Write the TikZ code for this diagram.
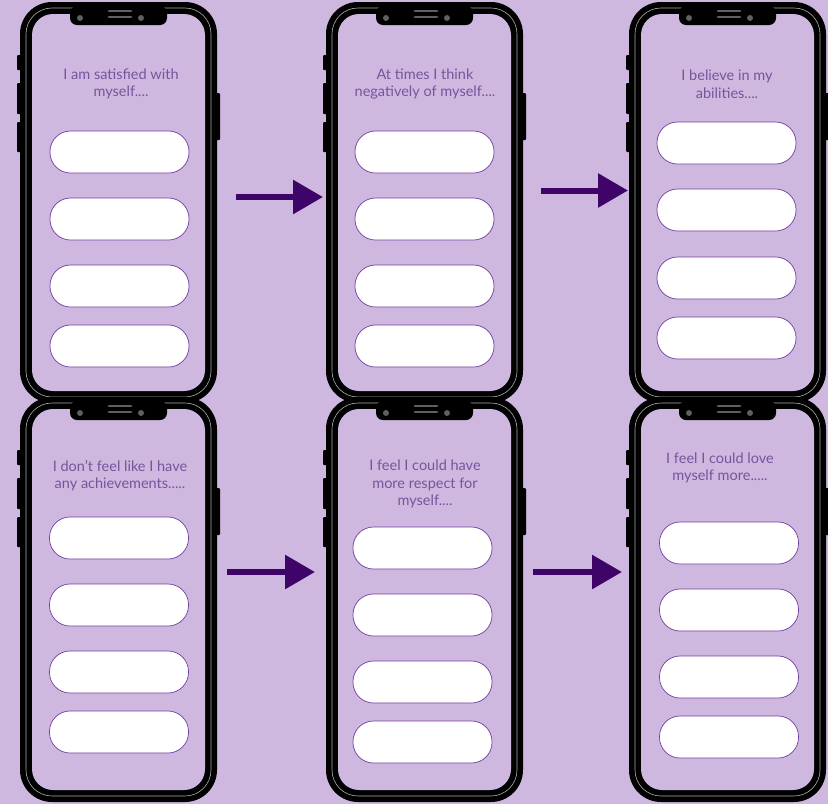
\documentclass[tikz,border=0pt]{standalone}
\usepackage{fontspec}
\setmainfont{Lato}
\usepackage{tikz}
\usetikzlibrary{arrows.meta}

\definecolor{lilac}{RGB}{207,184,224}
\definecolor{plum}{RGB}{63,4,104}
\definecolor{inkpurple}{RGB}{118,84,156}
\definecolor{pillline}{RGB}{112,62,160}
\definecolor{grille}{RGB}{95,95,100}

% phone body: top-left x, top-left y, height
\newcommand{\phonebody}[3]{%
  \begin{scope}[shift={(#1,#2)}]
    \fill[black, rounded corners=1] (-3,53) rectangle (1,68);
    \fill[black, rounded corners=1] (-3,81) rectangle (1,112);
    \fill[black, rounded corners=1] (-3,120) rectangle (1,150);
    \fill[black, rounded corners=1] (196,91) rectangle (200,138);
    \fill[black, rounded corners=32] (0,0) rectangle (197,#3);
    \draw[gray!65, line width=0.6pt, rounded corners=26] (6,6) rectangle (191,#3-6);
    \fill[lilac, rounded corners=21] (12,12) rectangle (185,#3-12);
    \fill[black, rounded corners=7] (50,4) rectangle (147,23);
    \draw[grille, line width=2.8pt, line cap=round] (89,9) -- (111,9) (89,15) -- (111,15);
    \fill[grille] (60,16) circle (3) (121,16) circle (3);
  \end{scope}}

\begin{document}
\begin{tikzpicture}[
    x=1pt, y=-1pt,
    question/.style={text=inkpurple, align=center, font=\fontsize{14.5}{17.5}\selectfont},
    answer/.style={draw=pillline, fill=white, line width=0.7pt, rounded corners=20.5pt,
      minimum width=139pt, minimum height=42pt, inner sep=0pt},
    flow/.style={plum, line width=6pt, -{Triangle[length=30pt,width=33pt]}}
  ]
    \fill[lilac] (0,0) rectangle (828,804);
    \useasboundingbox (0,0) rectangle (828,804);

    % phones
    \foreach \px in {20,326,629} {
      \phonebody{\px}{2}{401}
    }
    \foreach \px in {20,326,629} {
      \phonebody{\px}{397}{405}
    }

    % questions
    \node[question] (q1) at (121,84) {I am satisfied with\\myself....};
    \node[question] (q2) at (425,84) {At times I think\\negatively of myself....};
    \node[question] (q3) at (727,84) {I believe in my\\abilities....};
    \node[question] (q4) at (120,475.5) {I don't feel like I have\\any achievements.....};
    \node[question] (q5) at (425,484) {I feel I could have\\more respect for\\myself....};
    \node[question] (q6) at (720,468) {I feel I could love\\myself more.....};

    % answer buttons
    \foreach \y [count=\k] in {152,219,286,346} {
      \node[answer] (a1\k) at (119.5,\y) {};
      \node[answer] (a2\k) at (424.5,\y) {};
    }
    \foreach \y [count=\k] in {143,210,278,338} {
      \node[answer] (a3\k) at (726.5,\y) {};
    }
    \foreach \y [count=\k] in {538,605,672,732} {
      \node[answer] (a4\k) at (119,\y) {};
    }
    \foreach \y [count=\k] in {548,615,682,742} {
      \node[answer] (a5\k) at (422.5,\y) {};
    }
    \foreach \y [count=\k] in {543,610,677,737} {
      \node[answer] (a6\k) at (729,\y) {};
    }

    % arrows between screens
    \coordinate (s12) at (236,197);
    \coordinate (e12) at (323,197);
    \coordinate (s23) at (541,190.5);
    \coordinate (e23) at (628,190.5);
    \coordinate (s45) at (227,572);
    \coordinate (e45) at (315,572);
    \coordinate (s56) at (533,572);
    \coordinate (e56) at (622,572);
    \draw[flow] (s12) -- (e12);
    \draw[flow] (s23) -- (e23);
    \draw[flow] (s45) -- (e45);
    \draw[flow] (s56) -- (e56);
  \end{tikzpicture}
\end{document}
